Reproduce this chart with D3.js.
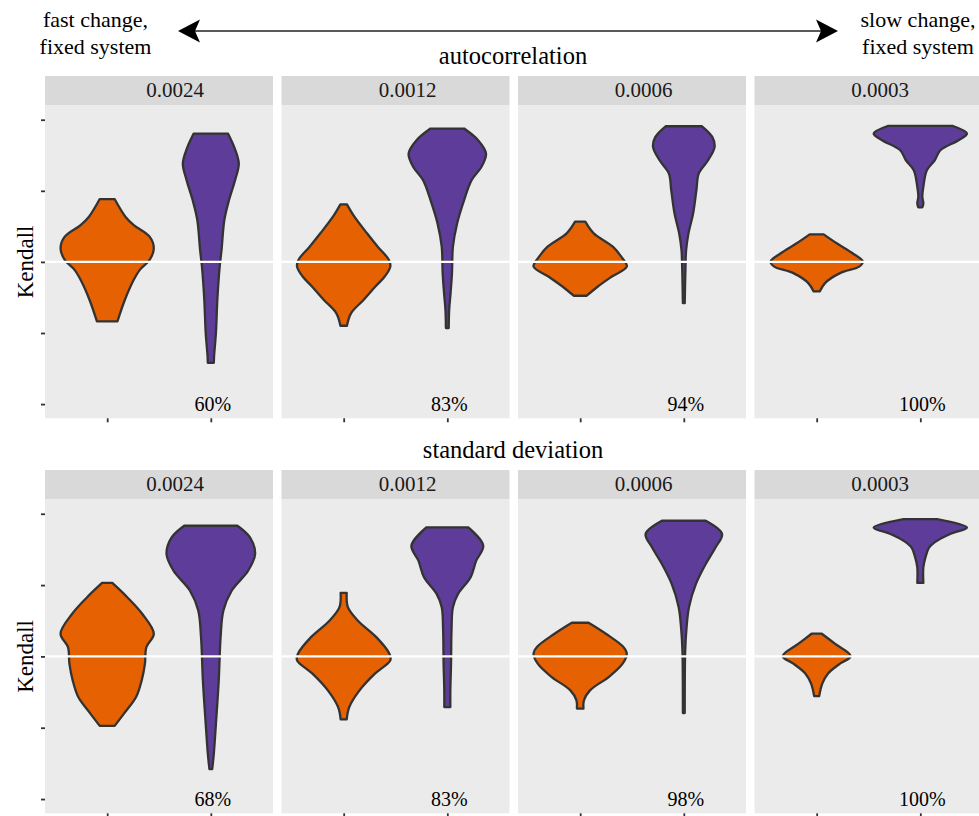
<!DOCTYPE html>
<html>
<head>
<meta charset="utf-8">
<script src="https://cdn.jsdelivr.net/npm/d3@7"></script>
<style>
  html, body { margin: 0; padding: 0; background: #ffffff; }
  svg { display: block; }
  svg text { font-family: "Liberation Serif", "Times New Roman", Times, serif; }
</style>
</head>
<body>
<svg id="chart" width="979" height="816" font-family="Liberation Serif, Times New Roman, serif"></svg>
<script>
// ---- data -------------------------------------------------------------
// Facets: rate of change of the forcing parameter
const facets = ["0.0024", "0.0012", "0.0006", "0.0003"];
// Two simulation groups shown in every facet
const groups = ["null", "forced"];
const groupColors = ["#e66101", "#5e3c99"];
// Percent of forced runs correctly flagged, per facet
const pctAutocorr = ["60%", "83%", "94%", "100%"];
const pctSd = ["68%", "83%", "98%", "100%"];
const yTicks = [-1, -0.5, 0, 0.5, 1];

// Violin profiles: [Kendall tau, relative density (1 = widest in facet)]
const acNull = [
  [[0.442,0.16],[0.318,0.39],[0.259,0.57],[0.178,0.91],[0.096,1.0],[0.014,0.91],[-0.056,0.70],[-0.126,0.57],[-0.266,0.38],[-0.418,0.22]],
  [[0.405,0.07],[0.318,0.23],[0.201,0.50],[0.107,0.73],[0.014,0.97],[-0.033,1.0],[-0.103,0.88],[-0.173,0.68],[-0.266,0.43],[-0.360,0.16],[-0.449,0.07]],
  [[0.283,0.11],[0.201,0.29],[0.107,0.70],[0.037,0.88],[-0.033,1.0],[-0.103,0.68],[-0.173,0.38],[-0.238,0.14]],
  [[0.194,0.15],[0.131,0.43],[0.061,0.77],[0.002,0.99],[-0.033,0.91],[-0.079,0.50],[-0.149,0.18],[-0.208,0.065]]
];
const acForced = [
  [[0.902,0.37],[0.809,0.50],[0.692,0.60],[0.575,0.52],[0.435,0.39],[0.295,0.29],[0.084,0.23],[-0.033,0.19],[-0.266,0.14],[-0.498,0.11],[-0.664,0.07],[-0.710,0.065]],
  [[0.938,0.36],[0.856,0.66],[0.762,0.83],[0.668,0.73],[0.575,0.52],[0.435,0.36],[0.271,0.21],[0.107,0.12],[-0.079,0.10],[-0.219,0.07],[-0.337,0.04],[-0.465,0.03]],
  [[0.954,0.39],[0.879,0.61],[0.809,0.66],[0.715,0.52],[0.622,0.32],[0.505,0.27],[0.342,0.20],[0.201,0.10],[0.084,0.05],[-0.033,0.036],[-0.290,0.02]],
  [[0.956,0.70],[0.903,1.0],[0.856,0.82],[0.785,0.43],[0.715,0.31],[0.645,0.14],[0.528,0.065],[0.458,0.043],[0.412,0.065],[0.384,0.043]]
];
const sdNull = [
  [[0.515,0.11],[0.415,0.43],[0.299,0.75],[0.159,1.0],[0.065,0.84],[-0.051,0.81],[-0.168,0.74],[-0.285,0.62],[-0.401,0.36],[-0.487,0.16]],
  [[0.445,0.065],[0.345,0.09],[0.252,0.30],[0.135,0.70],[0.019,0.98],[-0.028,1.0],[-0.121,0.67],[-0.238,0.34],[-0.355,0.12],[-0.441,0.065]],
  [[0.236,0.18],[0.159,0.55],[0.065,0.93],[0.019,1.0],[-0.051,0.91],[-0.145,0.61],[-0.238,0.21],[-0.308,0.08],[-0.366,0.07]],
  [[0.159,0.11],[0.089,0.39],[0.002,0.73],[-0.051,0.50],[-0.121,0.24],[-0.191,0.12],[-0.278,0.054]]
];
const sdForced = [
  [[0.916,0.57],[0.834,0.84],[0.718,0.95],[0.601,0.80],[0.462,0.45],[0.322,0.27],[0.135,0.21],[-0.168,0.17],[-0.471,0.11],[-0.680,0.065],[-0.790,0.03]],
  [[0.904,0.45],[0.776,0.77],[0.671,0.62],[0.555,0.50],[0.438,0.23],[0.345,0.12],[0.182,0.09],[-0.051,0.08],[-0.238,0.065],[-0.355,0.065]],
  [[0.951,0.47],[0.858,0.82],[0.764,0.68],[0.648,0.47],[0.508,0.26],[0.345,0.11],[0.182,0.054],[0.042,0.03],[-0.397,0.02]],
  [[0.963,0.36],[0.904,1.0],[0.858,0.64],[0.811,0.36],[0.764,0.19],[0.694,0.11],[0.624,0.065],[0.515,0.065]]
];

const rows = [
  { title: "autocorrelation", pct: pctAutocorr, violins: [acNull, acForced] },
  { title: "standard deviation", pct: pctSd, violins: [sdNull, sdForced] }
];

// ---- layout -----------------------------------------------------------
const svg = d3.select("#chart");
const panelLeft = 45, panelStep = 236.5, panelW = 228;
const rowLayout = [
  { titleY: 64, stripTop: 76, panelTop: 105.5, panelBottom: 418.3 },
  { titleY: 458, stripTop: 470, panelTop: 499.5, panelBottom: 813.3 }
];
const stripH = 29.5;
const stripTextShift = [16, 12, 11.5, 11.5];
const ink = "#333333";

// ---- header: direction arrow and end labels ---------------------------
const arrowY = 31, arrowL = 178, arrowR = 838;
const header = svg.append("g");
header.append("line")
  .attr("x1", arrowL + 8).attr("x2", arrowR - 8)
  .attr("y1", arrowY).attr("y2", arrowY)
  .attr("stroke", "#222").attr("stroke-width", 1.4);
function arrowHead(tipX, dir) {
  const len = 22, half = 11.5, notch = 5;
  return `M${tipX},${arrowY} L${tipX + dir * len},${arrowY - half} L${tipX + dir * (len - notch)},${arrowY} L${tipX + dir * len},${arrowY + half} Z`;
}
header.append("path").attr("d", arrowHead(arrowL, 1)).attr("fill", "#000");
header.append("path").attr("d", arrowHead(arrowR, -1)).attr("fill", "#000");

function sideLabel(x, lines) {
  const t = header.append("text").attr("text-anchor", "middle")
    .attr("font-size", 22).attr("fill", "#000");
  lines.forEach((s, i) => t.append("tspan").attr("x", x).attr("y", 27 + i * 26.5).text(s));
}
sideLabel(95.5, ["fast change,", "fixed system"]);
sideLabel(918, ["slow change,", "fixed system"]);

// ---- panels -----------------------------------------------------------
rows.forEach((row, ri) => {
  const L = rowLayout[ri];
  const g = svg.append("g");

  g.append("text")
    .attr("x", 513)
    .attr("y", L.titleY)
    .attr("text-anchor", "middle").attr("font-size", 24.5).attr("fill", "#000")
    .text(row.title);

  const y = d3.scaleLinear().domain([-1.1, 1.1]).range([L.panelBottom, L.panelTop]);

  // y-axis title
  g.append("text")
    .attr("transform", `translate(33,${y(0)}) rotate(-90)`)
    .attr("text-anchor", "middle").attr("font-size", 23).attr("fill", "#000")
    .text("Kendall");

  // y-axis ticks (labels suppressed)
  g.append("g")
    .attr("transform", `translate(${panelLeft},0)`)
    .call(d3.axisLeft(y).tickValues(yTicks).tickFormat("").tickSize(4))
    .call(a => a.select(".domain").remove())
    .call(a => a.selectAll("line").attr("stroke", ink).attr("stroke-width", 1.8));

  facets.forEach((facet, fi) => {
    const x0 = panelLeft + fi * panelStep;
    const x = d3.scalePoint().domain(groups).range([x0, x0 + panelW]).padding(0.6);
    const maxHalf = 0.45 * x.step();

    // strip
    g.append("rect").attr("x", x0).attr("y", L.stripTop)
      .attr("width", panelW).attr("height", stripH).attr("fill", "#d9d9d9");
    g.append("text").attr("x", x0 + panelW / 2 + stripTextShift[fi]).attr("y", L.stripTop + 21)
      .attr("text-anchor", "middle").attr("font-size", 21).attr("fill", "#1a1a1a")
      .text(facet);

    // panel background
    g.append("rect").attr("x", x0).attr("y", L.panelTop)
      .attr("width", panelW).attr("height", L.panelBottom - L.panelTop)
      .attr("fill", "#ebebeb");

    // violins
    groups.forEach((grp, gi) => {
      const prof = row.violins[gi][fi];
      const cx = x(grp);
      const area = d3.area()
        .y(d => y(d[0]))
        .x0(d => cx - d[1] * maxHalf)
        .x1(d => cx + d[1] * maxHalf)
        .curve(d3.curveCatmullRom.alpha(0.5));
      g.append("path").datum(prof)
        .attr("d", area)
        .attr("fill", groupColors[gi])
        .attr("stroke", ink).attr("stroke-width", 2.3)
        .attr("stroke-linejoin", "round");
    });

    // zero reference line
    g.append("line")
      .attr("x1", x0).attr("x2", x0 + panelW)
      .attr("y1", y(0)).attr("y2", y(0))
      .attr("stroke", "#ffffff").attr("stroke-width", 2.2);

    // percent label
    g.append("text")
      .attr("x", x(groups[1]) + 2).attr("y", y(-1.05))
      .attr("text-anchor", "middle").attr("font-size", 20).attr("fill", "#000")
      .text(row.pct[fi]);

    // x-axis ticks (labels suppressed)
    g.append("g")
      .attr("transform", `translate(0,${L.panelBottom})`)
      .call(d3.axisBottom(x).tickFormat("").tickSize(4))
      .call(a => a.select(".domain").remove())
      .call(a => a.selectAll("line").attr("stroke", ink).attr("stroke-width", 1.8));
  });
});
</script>
</body>
</html>
